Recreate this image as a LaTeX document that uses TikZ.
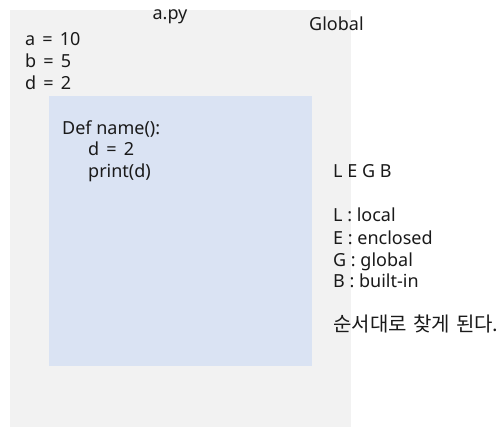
\documentclass[tikz,border=0pt]{standalone}
\usepackage{fontspec}
\setmainfont{Noto Sans}
\newfontfamily\krfont[WordSpace=1.4]{Noto Sans CJK KR}
\definecolor{bggray}{HTML}{F2F2F2}
\definecolor{fnblue}{HTML}{DAE3F3}
\definecolor{txt}{HTML}{1A1A1A}
\newcommand{\eqs}{\kern2.5pt{} = {}\kern2.5pt}
\begin{document}
\begin{tikzpicture}[x=1pt,y=-1pt,
  lbl/.style={anchor=base west,inner sep=0pt,text=txt,font=\fontsize{18}{21}\selectfont},
  lblc/.style={anchor=base,inner sep=0pt,text=txt,font=\fontsize{18}{21}\selectfont}]
\useasboundingbox (0,0) rectangle (502,427);
\fill[bggray] (9.5,10) rectangle (351,427);
\fill[fnblue] (48.5,96.5) rectangle (311.5,366);
\node[lblc] (file) at (170,20) {a.py};
\node[lbl] (glob) at (309,31) {Global};
\node[lbl] (va) at (25,45.5) {a\eqs10};
\node[lbl] (vb) at (25,67.5) {b\eqs5};
\node[lbl] (vd) at (25,89.5) {d\eqs2};
\node[lbl] (def) at (62,134.5) {Def name():};
\node[lbl] (ld) at (88,156) {d\eqs2};
\node[lbl] (pr) at (88,177.5) {print(d)};
\node[lbl] (legb) at (333,178) {L E G B};
\node[lbl] (l) at (333,222) {L : local};
\node[lbl] (e) at (333,244) {E : enclosed};
\node[lbl] (g) at (333,266) {G : global};
\node[lbl] (b) at (333,287.5) {B : built-in};
\node[lbl,font=\fontsize{20}{22}\krfont] (kr) at (333,331) {순서대로 찾게 된다.};
\end{tikzpicture}
\end{document}
